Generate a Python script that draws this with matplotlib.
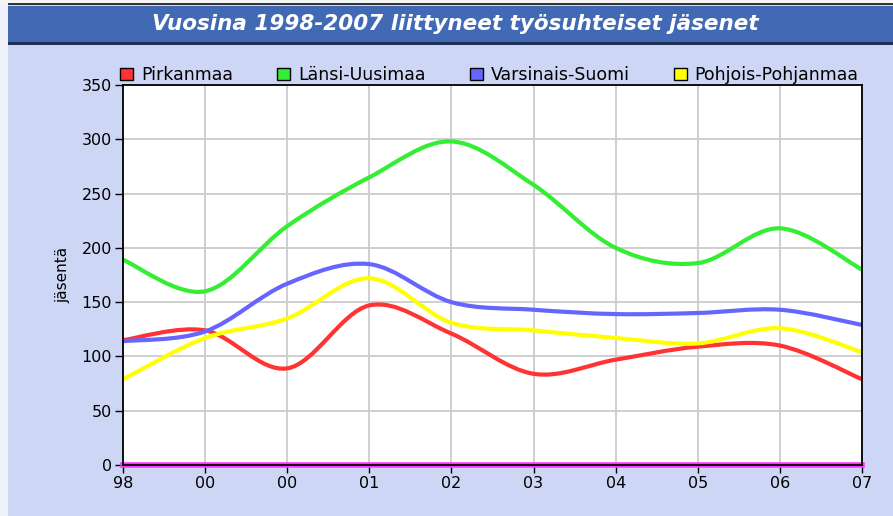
import matplotlib
matplotlib.use("Agg")
import matplotlib.pyplot as plt
import numpy as np
from matplotlib.path import Path
from matplotlib.patches import PathPatch, Patch, Rectangle

# data
years = ['98', '00', '00', '01', '02', '03', '04', '05', '06', '07']
pirkanmaa = [115, 124, 89, 147, 121, 84, 97, 109, 110, 79]
lansi_uusimaa = [189, 160, 220, 265, 298, 258, 200, 186, 218, 180]
varsinais_suomi = [114, 123, 167, 185, 150, 143, 139, 140, 143, 129]
pohjois_pohjanmaa = [79, 117, 135, 172, 131, 124, 117, 112, 126, 104]

series = [('Pirkanmaa', pirkanmaa, '#ff3333'),
          ('Länsi-Uusimaa', lansi_uusimaa, '#33ee33'),
          ('Varsinais-Suomi', varsinais_suomi, '#6666ff'),
          ('Pohjois-Pohjanmaa', pohjois_pohjanmaa, '#ffff00')]

BG = '#cdd6f5'
W, H = 893, 516


def smooth_path(x, y):
    # Catmull-Rom spline through the points as cubic bezier segments
    p = np.column_stack([x, y]).astype(float)
    ext = np.vstack([p[0], p, p[-1]])
    verts = [p[0]]
    codes = [Path.MOVETO]
    for i in range(len(p) - 1):
        p0, p1, p2, p3 = ext[i], ext[i + 1], ext[i + 2], ext[i + 3]
        c1 = p1 + (p2 - p0) / 6
        c2 = p2 - (p3 - p1) / 6
        verts += [c1, c2, p2]
        codes += [Path.CURVE4] * 3
    return Path(verts, codes)


fig = plt.figure(figsize=(W / 100, H / 100), dpi=100, facecolor=BG)

# light strip on the left and title bar
fig.patches.append(Rectangle((0, 0), 8 / W, 1, transform=fig.transFigure,
                             facecolor='#eef0fa', edgecolor='none', zorder=0))
fig.patches.append(Rectangle((0, 1 - 5 / H), 1, 5 / H, transform=fig.transFigure,
                             facecolor='#f4f4f4', edgecolor='none', zorder=0))
fig.patches.append(Rectangle((8 / W, 1 - 5 / H), 1, 2 / H, transform=fig.transFigure,
                             facecolor='#333333', edgecolor='none', zorder=1))
fig.patches.append(Rectangle((8 / W, 1 - 44 / H), 1, 38 / H, transform=fig.transFigure,
                             facecolor='#4169b4', edgecolor='none', zorder=1))
fig.patches.append(Rectangle((8 / W, 1 - 45 / H), 1, 3 / H, transform=fig.transFigure,
                             facecolor='#1f2f55', edgecolor='none', zorder=2))
fig.text(455 / W, 1 - 24 / H, 'Vuosina 1998-2007 liittyneet työsuhteiset jäsenet',
         ha='center', va='center', color='white', fontsize=15.5,
         fontweight='bold', fontstyle='italic')

ax = fig.add_axes([123 / W, (H - 465) / H, (862 - 123) / W, (465 - 85) / H])
ax.set_facecolor('white')

x = np.arange(len(years))
for name, vals, col in series:
    ax.add_patch(PathPatch(smooth_path(x, vals), facecolor='none', edgecolor=col,
                           lw=3, capstyle='round', zorder=3))

ax.axhline(0, color='#ff33ff', lw=4, zorder=4, clip_on=False)

ax.set_xlim(0, len(years) - 1)
ax.set_ylim(0, 350)
ax.set_xticks(x)
ax.set_xticklabels(years)
ax.set_yticks(np.arange(0, 351, 50))
ax.grid(True, color='#cccccc', lw=1.3)
ax.set_axisbelow(True)
ax.tick_params(direction='out', length=6, width=1, labelsize=11.5, colors='black', pad=2)
for s in ax.spines.values():
    s.set_color('black')
    s.set_linewidth(1.3)
    s.set_zorder(5)
ax.set_ylabel('jäsentä', fontsize=11, labelpad=8)

handles = [Patch(facecolor=c, edgecolor='black', lw=1) for _, _, c in series]
fig.legend(handles, [n for n, _, _ in series], loc='lower left',
           bbox_to_anchor=(120 / W, (H - 84) / H), ncol=4, frameon=False,
           fontsize=12.5, handlelength=0.75, handleheight=0.75, handletextpad=0.45,
           columnspacing=2.55, borderpad=0, borderaxespad=0)

fig.savefig('out.png', dpi=100, facecolor=BG)
